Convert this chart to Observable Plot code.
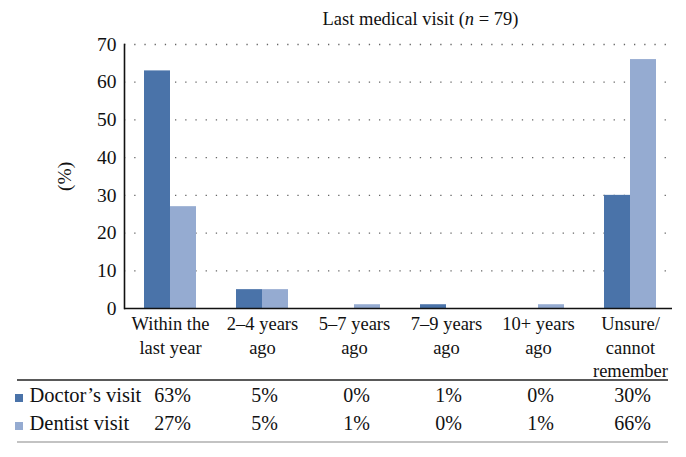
<!DOCTYPE html>
<html><head><meta charset="utf-8">
<script src="https://cdn.jsdelivr.net/npm/d3@7"></script>
<script src="https://cdn.jsdelivr.net/npm/@observablehq/plot@0.6"></script>
<style>
body{margin:0;background:#fff}
svg, svg text { font-family: "Liberation Serif", "Times New Roman", serif !important; }
</style>
</head><body><div id="chart"></div>
<script>
const categories = ["Within the last year","2–4 years ago","5–7 years ago","7–9 years ago","10+ years ago","Unsure/cannot remember"];
const tickLabels = ["Within the\nlast year","2–4 years\nago","5–7 years\nago","7–9 years\nago","10+ years\nago","Unsure/\ncannot\nremember"];
const series = ["Doctor’s visit","Dentist visit"];
const doctorValues = [63,5,0,1,0,30];
const dentistValues = [27,5,1,0,1,66];
const yTicks = [0,10,20,30,40,50,60,70];
const colors = ["#4a73a9","#95abd1"];
const titleText = "Last medical visit (n = 79)";

const doctorRows = categories.map((c,i)=>({category:c, series:series[0], value:doctorValues[i]}));
const dentistRows = categories.map((c,i)=>({category:c, series:series[1], value:dentistValues[i]}));

const plot = Plot.plot({
  width: 686, height: 457,
  marginLeft: 124, marginRight: 14, marginTop: 44, marginBottom: 149,
  style: {fontFamily: "'Liberation Serif', serif", fontSize: "16px", background: "#fff", color: "#111"},
  x: {domain: categories, range: [124, 676], paddingInner: 0.435, paddingOuter: 0.2174},
  y: {domain: [0, 70]},
  marks: [
    Plot.gridY(yTicks.filter(d => d > 0), {stroke: "#666", strokeOpacity: 1, strokeWidth: 1.3, strokeDasharray: "1.3,8.9"}),
    Plot.barY(doctorRows, {x: "category", y: "value", fill: colors[0], insetLeft: 0, insetRight: 26}),
    Plot.barY(dentistRows, {x: "category", y: "value", fill: colors[1], insetLeft: 26, insetRight: 0}),
    Plot.axisY(yTicks, {tickSize: 0, tickPadding: 8, fontSize: 19.5, label: "(%)", labelAnchor: "center", labelOffset: 67, labelArrow: "none"}),
    Plot.axisX({tickSize: 0, tickPadding: 5, fontSize: 18.5, lineHeight: 1.27, label: null, tickFormat: d => tickLabels[categories.indexOf(d)]}),
    Plot.ruleY([0], {stroke: "#111", strokeWidth: 1.6}),
    Plot.frame({anchor: "left", stroke: "#111", strokeWidth: 1.6}),
    Plot.text([titleText], {frameAnchor: "top", dx: 22, dy: -33, fontSize: 18.5, className: "chart-title"}),
    Plot.text(doctorRows, {x: "category", text: d => d.value + "%", frameAnchor: "bottom", dy: 93, dx: 2, fontSize: 20}),
    Plot.text(dentistRows, {x: "category", text: d => d.value + "%", frameAnchor: "bottom", dy: 121, dx: 2, fontSize: 20}),
    Plot.text([series[0]], {frameAnchor: "bottom-left", dx: -95, dy: 93, textAnchor: "start", fontSize: 20.5}),
    Plot.text([series[1]], {frameAnchor: "bottom-left", dx: -95, dy: 121, textAnchor: "start", fontSize: 20.5})
  ]
});
document.getElementById("chart").appendChild(plot);

const svg = d3.select(plot);

// italic n in the title
const t = svg.select("g.chart-title text");
t.text(null);
t.append("tspan").text("Last medical visit (");
t.append("tspan").attr("font-style", "italic").text("n");
t.append("tspan").text(" = 79)");

// table rules and legend swatches
svg.append("line").attr("x1", 17).attr("x2", 668).attr("y1", 380).attr("y2", 380).attr("stroke", "#222").attr("stroke-width", 1.6);
svg.append("line").attr("x1", 17).attr("x2", 668).attr("y1", 442).attr("y2", 442).attr("stroke", "#888").attr("stroke-width", 1.2);
svg.append("rect").attr("x", 15).attr("y", 394).attr("width", 8).attr("height", 8).attr("fill", colors[0]);
svg.append("rect").attr("x", 15).attr("y", 422).attr("width", 8).attr("height", 8).attr("fill", colors[1]);
</script></body></html>
